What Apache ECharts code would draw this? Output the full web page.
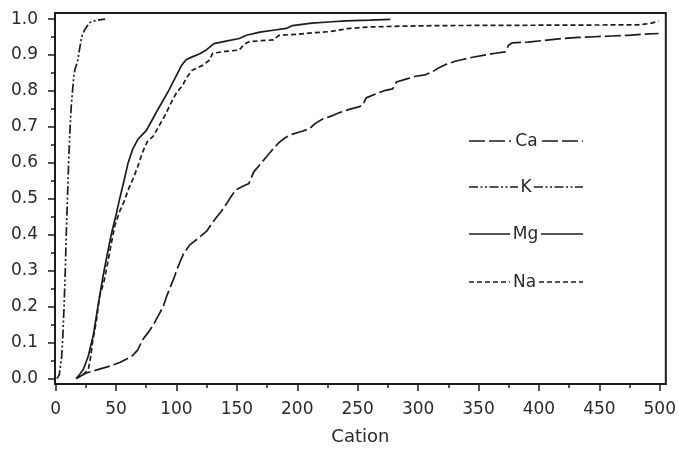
<!DOCTYPE html>
<html>
<head>
<meta charset="utf-8">
<script src="https://cdn.jsdelivr.net/npm/echarts@6/dist/echarts.min.js"></script>
<style>html,body{margin:0;padding:0;background:#fff}#c{width:679px;height:451px}</style>
</head>
<body>
<div id="c"></div>
<script>
// Cumulative proportion vs cation concentration
const seriesNames = ['Ca', 'K', 'Mg', 'Na'];
const xMajorTicks = [0, 50, 100, 150, 200, 250, 300, 350, 400, 450, 500];
const xMinorTicks = [25, 75, 125, 175, 225, 275, 325, 375, 425, 475];
const yMajorTicks = [0, 0.1, 0.2, 0.3, 0.4, 0.5, 0.6, 0.7, 0.8, 0.9, 1.0];
const yMinorTicks = [0.05, 0.15, 0.25, 0.35, 0.45, 0.55, 0.65, 0.75, 0.85, 0.95];

const caPoints = [[17,0.0],[25,0.015],[31,0.021],[37,0.027],[45,0.035],[53,0.045],[58,0.053],[64,0.065],[68,0.08],[72,0.108],[77,0.13],[81,0.15],[85,0.175],[89,0.2],[92,0.23],[95,0.255],[98,0.28],[100,0.3],[103,0.325],[106,0.348],[111,0.372],[118,0.39],[125,0.41],[129,0.43],[133,0.448],[137,0.465],[141,0.484],[145,0.505],[149,0.525],[155,0.535],[160,0.543],[164,0.575],[169,0.595],[174,0.615],[179,0.635],[185,0.657],[190,0.67],[196,0.68],[204,0.688],[210,0.695],[215,0.71],[221,0.722],[228,0.73],[235,0.74],[243,0.749],[250,0.755],[254,0.76],[257,0.781],[265,0.792],[273,0.802],[279,0.806],[282,0.825],[290,0.833],[298,0.841],[306,0.845],[312,0.854],[318,0.866],[323,0.874],[330,0.882],[336,0.887],[345,0.894],[355,0.9],[364,0.905],[372,0.909],[375,0.928],[378,0.934],[391,0.936],[405,0.941],[419,0.946],[433,0.949],[446,0.951],[460,0.953],[474,0.955],[487,0.958],[499,0.96]];

const kPoints = [[1,0.0],[3,0.01],[5,0.06],[6,0.12],[7,0.2],[8,0.3],[9,0.42],[10,0.52],[11,0.62],[12,0.7],[13,0.76],[14,0.8],[15,0.84],[16,0.86],[17,0.87],[18,0.88],[19,0.9],[20,0.92],[21,0.94],[22,0.955],[24,0.97],[26,0.98],[28,0.99],[32,0.995],[36,0.998],[41,1.0]];

const mgPoints = [[17,0.0],[20,0.012],[23,0.026],[27,0.062],[31,0.117],[35,0.2],[39,0.28],[43,0.35],[46,0.4],[50,0.455],[53,0.5],[57,0.556],[60,0.6],[64,0.64],[68,0.665],[71,0.676],[75,0.69],[80,0.72],[84,0.745],[88,0.768],[94,0.804],[98,0.83],[101,0.85],[104,0.87],[108,0.887],[113,0.895],[119,0.903],[125,0.915],[131,0.932],[140,0.938],[152,0.946],[158,0.955],[169,0.964],[180,0.969],[191,0.974],[196,0.982],[212,0.989],[226,0.992],[240,0.995],[260,0.997],[277,0.999]];

const naPoints = [[17,0.0],[23,0.012],[27,0.025],[29,0.06],[30.5,0.1],[33.5,0.155],[36.5,0.23],[40,0.27],[43,0.32],[46,0.375],[49,0.425],[53,0.465],[57,0.495],[60,0.525],[64,0.555],[68,0.59],[72,0.63],[76,0.66],[81,0.675],[86,0.705],[91,0.735],[96,0.77],[100,0.795],[105,0.815],[108,0.835],[113,0.858],[117,0.864],[122,0.872],[127,0.885],[130,0.905],[140,0.91],[152,0.914],[156,0.93],[160,0.937],[170,0.94],[180,0.942],[185,0.955],[200,0.958],[213,0.962],[226,0.965],[243,0.974],[259,0.978],[280,0.98],[317,0.982],[400,0.983],[482,0.984],[492,0.988],[499,0.994]];

const INK = '#1c1c1c';
const TEXT = '#2a2a2a';
const FONT = '"DejaVu Sans", sans-serif';
const dashes = {
  Ca: [16, 4],
  K: [9, 2.5, 2, 2.5, 2, 2.5],
  Mg: 'solid',
  Na: [5, 3]
};
const pointsByName = { Ca: caPoints, K: kPoints, Mg: mgPoints, Na: naPoints };

const xMin = -0.5, xMax = 505, yMin = -0.015, yMax = 1.017;

const chart = echarts.init(document.getElementById('c'), null, { renderer: 'canvas' });

const legendRows = [
  { name: 'Ca', y: 141, l1: 511, r1: 542 },
  { name: 'K',  y: 187, l1: 518, r1: 534 },
  { name: 'Mg', y: 234, l1: 510, r1: 541 },
  { name: 'Na', y: 282, l1: 510, r1: 539 }
];
const legendGraphics = [];
legendRows.forEach(function (r) {
  const d = dashes[r.name];
  const dash = d === 'solid' ? null : d;
  legendGraphics.push({ type: 'line', silent: true, shape: { x1: 469, y1: r.y, x2: r.l1, y2: r.y }, style: { stroke: INK, lineWidth: 1.6, lineDash: dash } });
  legendGraphics.push({ type: 'line', silent: true, shape: { x1: r.r1, y1: r.y, x2: 583, y2: r.y }, style: { stroke: INK, lineWidth: 1.6, lineDash: dash } });
  legendGraphics.push({ type: 'text', silent: true, style: { text: r.name, x: (r.l1 + r.r1) / 2, y: r.y + 1, align: 'center', verticalAlign: 'middle', font: '17px ' + FONT, fill: TEXT } });
});

const option = {
  animation: false,
  backgroundColor: '#fff',
  grid: { left: 55, right: 11, top: 13, bottom: 63, show: true, borderColor: INK, borderWidth: 2, backgroundColor: 'transparent' },
  xAxis: [
    {
      type: 'value', min: xMin, max: xMax, position: 'bottom',
      name: 'Cation', nameLocation: 'middle', nameGap: 44,
      nameTextStyle: { fontSize: 18, color: TEXT, fontFamily: FONT },
      axisLine: { show: true, onZero: false, lineStyle: { color: INK, width: 2 } },
      axisTick: { show: true, customValues: xMajorTicks, length: 7, lineStyle: { color: INK, width: 1.5 } },
      axisLabel: { customValues: xMajorTicks, margin: 17, fontSize: 17, color: TEXT, fontFamily: FONT },
      splitLine: { show: false }
    },
    {
      type: 'value', min: xMin, max: xMax, position: 'bottom',
      axisLine: { show: false, onZero: false },
      axisTick: { show: true, customValues: xMinorTicks, length: 4, lineStyle: { color: INK, width: 1.5 } },
      axisLabel: { show: false },
      splitLine: { show: false }
    }
  ],
  yAxis: [
    {
      type: 'value', min: yMin, max: yMax, position: 'left',
      axisLine: { show: true, onZero: false, lineStyle: { color: INK, width: 2 } },
      axisTick: { show: true, customValues: yMajorTicks, length: 7, lineStyle: { color: INK, width: 1.5 } },
      axisLabel: { customValues: yMajorTicks, margin: 17, fontSize: 17, color: TEXT, fontFamily: FONT,
        formatter: function (v) { return v.toFixed(1); } },
      splitLine: { show: false }
    },
    {
      type: 'value', min: yMin, max: yMax, position: 'left',
      axisLine: { show: false, onZero: false },
      axisTick: { show: true, customValues: yMinorTicks, length: 4, lineStyle: { color: INK, width: 1.5 } },
      axisLabel: { show: false },
      splitLine: { show: false }
    }
  ],
  series: seriesNames.map(function (n) {
    return {
      name: n, type: 'line', data: pointsByName[n], xAxisIndex: 0, yAxisIndex: 0,
      symbol: 'none', showSymbol: false, smooth: false,
      lineStyle: { color: INK, width: 1.7, type: dashes[n] }
    };
  }),
  graphic: legendGraphics
};
chart.setOption(option);
</script>
</body>
</html>
